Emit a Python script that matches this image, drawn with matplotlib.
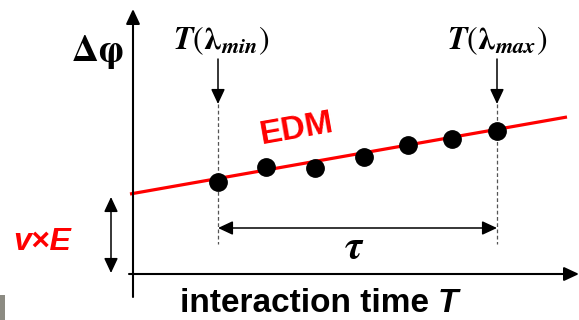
# schematic: EDM phase shift vs interaction time
import matplotlib.pyplot as plt
from matplotlib.patches import Rectangle

plt.rcParams['mathtext.fontset'] = 'stix'
plt.rcParams['font.family'] = ['Liberation Sans', 'DejaVu Sans']

# data (schematic units, y grows downwards like the picture)
T_points = [218, 266, 315, 364, 408, 452, 497]
dphi_points = [182, 167, 168, 157, 145, 139, 131]
edm_T = [130, 567]
edm_phi = [194, 117]
T_min, T_max = 218, 497
offset_top, offset_bottom = 197, 273

fig = plt.figure(figsize=(5.79, 3.2), dpi=100)
ax = fig.add_axes([0, 0, 1, 1])
ax.set_xlim(0, 579)
ax.set_ylim(320, 0)
ax.axis('off')

head = dict(arrowstyle='-|>,head_length=0.9,head_width=0.42', color='black',
            lw=1.5, shrinkA=0, shrinkB=0, mutation_scale=10)
head2 = dict(arrowstyle='<|-|>,head_length=0.9,head_width=0.42', color='black',
             lw=1.1, shrinkA=0, shrinkB=0, mutation_scale=10)

# axes with arrows
ax.annotate('', xy=(133, 9), xytext=(133, 297), arrowprops=head)
ax.annotate('', xy=(579, 274), xytext=(129, 274), arrowprops=head)

# dashed guides at T_min / T_max
for t in (T_min, T_max):
    ax.plot([t, t], [104, 244], color='#555555', lw=0.9, ls=(0, (3, 2)))
    ax.annotate('', xy=(t, 104), xytext=(t, 59), arrowprops=dict(head, lw=1.1))

# EDM line and measured points
ax.plot(edm_T, edm_phi, color='#ff0000', lw=2.3, solid_capstyle='butt')
ax.plot(T_points, dphi_points, 'o', color='black', markersize=12.5)

# tau and offset arrows
ax.annotate('', xy=(T_max, 228), xytext=(T_min, 228), arrowprops=head2)
ax.annotate('', xy=(111, offset_bottom), xytext=(111, offset_top), arrowprops=head2)

# labels
ax.text(97, 52, r'$\mathbf{\Delta}\boldsymbol{\varphi}$', fontsize=27,
        ha='center', va='center')
ax.text(221, 41, r'$\boldsymbol{T}(\boldsymbol{\lambda}_{\boldsymbol{min}})$',
        fontsize=23, ha='center', va='center')
ax.text(497, 41, r'$\boldsymbol{T}(\boldsymbol{\lambda}_{\boldsymbol{max}})$',
        fontsize=23, ha='center', va='center')
ax.text(297, 129, 'EDM', color='#ff0000', fontsize=24, fontweight='bold',
        rotation=10, ha='center', va='center', rotation_mode='anchor')
ax.text(42, 242, 'v×E', color='#ff0000', fontsize=23, fontweight='bold',
        style='italic', ha='center', va='center')
ax.text(354, 247, r'$\boldsymbol{\tau}$', fontsize=29, ha='center', va='center')
ax.text(438, 312, 'interaction time ', fontsize=24, fontweight='bold',
        ha='right', va='baseline')
ax.text(438, 312, 'T', fontsize=24, fontweight='bold', style='italic',
        ha='left', va='baseline')

# bit of a cropped photo in the corner
ax.add_patch(Rectangle((0, 295), 5, 25, color='#8c8b82', lw=0))

fig.savefig('out.png', dpi=100)
